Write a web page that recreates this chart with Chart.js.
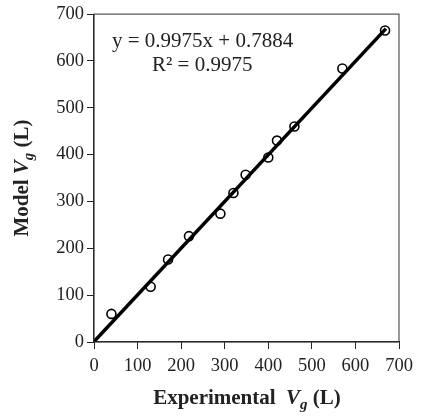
<!DOCTYPE html>
<html>
<head>
<meta charset="utf-8">
<script src="https://cdn.jsdelivr.net/npm/chart.js@4"></script>
<style>
  html, body { margin: 0; padding: 0; background: #fff; }
  #wrap { width: 421px; height: 417px; position: relative; }
</style>
</head>
<body>
<div id="wrap"><canvas id="myChart" width="421" height="417"></canvas></div>
<script>
// values
const experimental = [40, 130, 170, 218, 290, 320, 348, 400, 420, 460, 570, 668];
const model = [60, 118, 176, 226, 274, 318, 357, 394, 430, 460, 584, 665];
const fitX = [0, 670];
const fitY = [0.8, 669.1];
const tickValues = [0, 100, 200, 300, 400, 500, 600, 700];
const equationText = "y = 0.9975x + 0.7884";
const rSquaredText = "R\u00b2 = 0.9975";

const serif = "'Liberation Serif', 'Times New Roman', serif";

const drawRich = (ctx, parts, x, y) => {
  let total = 0;
  parts.forEach((p) => {
    ctx.font = p.font;
    total += ctx.measureText(p.text).width;
  });
  let cx = x - total / 2;
  parts.forEach((p) => {
    ctx.font = p.font;
    ctx.fillText(p.text, cx, y + (p.dy || 0));
    cx += ctx.measureText(p.text).width;
  });
};

const titleParts = (label) => [
  { text: label, font: "bold 21px " + serif },
  { text: "V", font: "bold italic 21px " + serif },
  { text: "g", font: "bold italic 15px " + serif, dy: 5 },
  { text: " (L)", font: "bold 21px " + serif },
];

const decorPlugin = {
  id: "decor",
  afterDatasetsDraw(chart) {
    const { ctx, chartArea } = chart;
    ctx.save();
    // box around the plot
    ctx.strokeStyle = "#333";
    ctx.lineWidth = 1;
    ctx.strokeRect(chartArea.left, chartArea.top, chartArea.right - chartArea.left, chartArea.bottom - chartArea.top);

    ctx.fillStyle = "#222";
    ctx.textBaseline = "alphabetic";
    ctx.textAlign = "left";
    ctx.font = "21px " + serif;
    ctx.fillText(equationText, 112, 47);
    ctx.fillText(rSquaredText, 152, 71);

    // axis titles
    drawRich(ctx, titleParts("Experimental  "), 247, 404);
    ctx.translate(28, 178);
    ctx.rotate(-Math.PI / 2);
    drawRich(ctx, titleParts("Model "), 0, 0);
    ctx.restore();
  },
};

const axisStyle = {
  type: "linear",
  min: 0,
  max: 700,
  afterBuildTicks: (scale) => {
    scale.ticks = tickValues.map((v) => ({ value: v }));
  },
  grid: {
    drawOnChartArea: false,
    drawTicks: true,
    tickLength: 7,
    tickColor: "#222",
    tickWidth: 1,
  },
  border: { display: true, color: "#222", width: 1.2 },
  ticks: {
    color: "#222",
    font: { family: serif, size: 18.5 },
  },
};

new Chart(document.getElementById("myChart"), {
  type: "scatter",
  data: {
    datasets: [
      {
        label: "Fit",
        type: "line",
        data: fitX.map((x, i) => ({ x: x, y: fitY[i] })),
        borderColor: "#000",
        borderWidth: 3.5,
        pointRadius: 0,
        fill: false,
        order: 2,
      },
      {
        label: "Data",
        data: experimental.map((x, i) => ({ x: x, y: model[i] })),
        pointStyle: "circle",
        pointRadius: 4.5,
        pointBorderWidth: 1.6,
        pointBorderColor: "#000",
        pointBackgroundColor: "rgba(255,255,255,0)",
        order: 1,
      },
    ],
  },
  options: {
    responsive: false,
    animation: false,
    layout: { padding: { left: 0, top: 13, right: 22, bottom: 0 } },
    plugins: {
      legend: { display: false },
      tooltip: { enabled: false },
    },
    scales: {
      x: {
        ...axisStyle,
        position: "bottom",
        ticks: { ...axisStyle.ticks, padding: 6, maxRotation: 0 },
        afterFit: (scale) => { scale.height = 75; },
      },
      y: {
        ...axisStyle,
        position: "left",
        ticks: { ...axisStyle.ticks, padding: 3 },
        afterFit: (scale) => { scale.width = 94; },
      },
    },
  },
  plugins: [decorPlugin],
});
</script>
</body>
</html>
